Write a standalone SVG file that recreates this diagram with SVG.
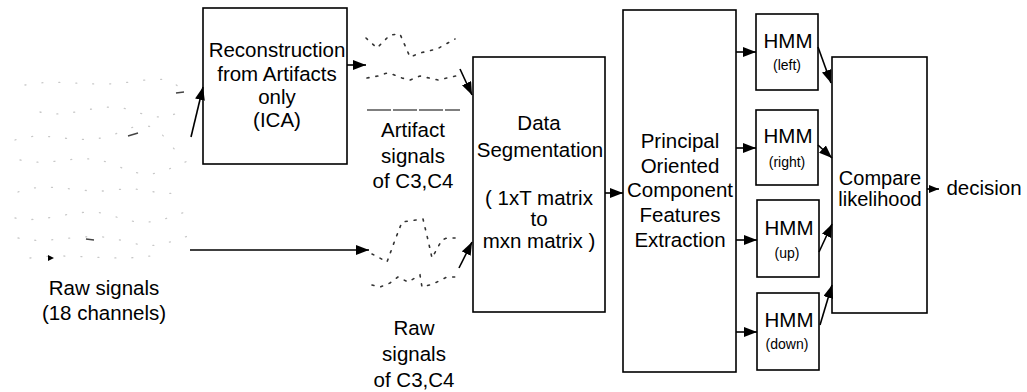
<svg xmlns="http://www.w3.org/2000/svg" width="1027" height="392" viewBox="0 0 1027 392">
<defs>
<marker id="ah" markerUnits="userSpaceOnUse" markerWidth="13" markerHeight="10" refX="13" refY="5" orient="auto">
<path d="M0,0 L13,5 L0,10 z" fill="#000"/>
</marker>
<marker id="ahs" markerUnits="userSpaceOnUse" markerWidth="10" markerHeight="8" refX="10" refY="4" orient="auto">
<path d="M0,0 L10,4 L0,8 z" fill="#000"/>
</marker>
<style>
.box{fill:#fff;stroke:#000;stroke-width:1.6}
.t{font-family:"Liberation Sans",Arial,sans-serif;font-size:20.5px;fill:#000;text-anchor:middle}
.s{font-family:"Liberation Sans",Arial,sans-serif;font-size:14px;fill:#000;text-anchor:middle}
.c{fill:none;stroke:#000;stroke-width:1.6}
.w{fill:none;stroke:#333;stroke-width:1.6;stroke-dasharray:2 7;stroke-linecap:round}
.f{fill:none;stroke:#c8c8c8;stroke-width:1.3;stroke-dasharray:1 16;stroke-linecap:round}
</style>
</defs>
<rect width="1027" height="392" fill="#fff"/>

<g id="raw-waves">
<path class="f" d="M25,85 C60,78 90,88 130,82 S170,80 185,92"/>
<path class="f" d="M40,112 C70,120 100,100 130,110 S165,118 180,112"/>
<path class="f" d="M15,140 C50,128 80,150 120,132 S160,138 185,160"/>
<path class="f" d="M20,160 C55,168 80,150 115,165 S155,175 190,160"/>
<path class="f" d="M18,192 C50,180 80,195 115,190 S160,200 185,190"/>
<path class="f" d="M15,218 C45,225 80,205 110,215 S150,225 185,212"/>
<path class="f" d="M18,238 C50,246 85,230 120,240 S160,245 188,236"/>
<path class="f" d="M30,258 C70,252 110,262 150,256"/>
<path fill="#000" d="M48,255 L54,258 L48,261 z"/>
<line x1="128" y1="136" x2="138" y2="133" stroke="#444" stroke-width="1.5"/>
<line x1="86" y1="239" x2="94" y2="240" stroke="#444" stroke-width="1.5"/>
<line x1="176" y1="93" x2="184" y2="92" stroke="#444" stroke-width="1.5"/>
</g>

<g id="raw-label">
<text class="t" x="104" y="295">Raw signals</text>
<text class="t" x="104" y="320">(18 channels)</text>
</g>

<g id="ica">
<rect class="box" x="203" y="8" width="144" height="156"/>
<text class="t" x="277" y="57">Reconstruction</text>
<text class="t" x="277" y="81">from Artifacts</text>
<text class="t" x="277" y="104">only</text>
<text class="t" x="277" y="127">(ICA)</text>
</g>

<g id="artifact-waves">
<path class="w" d="M366,38 L377,48 L390,35 L400,34 L410,57 L420,53 L437,49 L455,39"/>
<path class="w" d="M367,78 L378,76 L387,73 L392,74 L402,78 L410,80 L420,76 L438,80 L456,76"/>
<line x1="367" y1="110" x2="460" y2="110" stroke="#000" stroke-width="1.1" stroke-dasharray="24 2"/>
</g>
<g id="artifact-label">
<text class="t" x="413" y="137">Artifact</text>
<text class="t" x="413" y="163">signals</text>
<text class="t" x="413" y="188">of C3,C4</text>
</g>

<g id="rawc-waves">
<path class="w" d="M372,254 L378,257 L387,262 L395,240 L402,222 L423,219 L428,240 L432,258 L438,247 L442,240 L447,238 L456,238"/>
<path class="w" d="M372,285 L380,287 L390,283 L398,277 L408,282 L420,275 L422,287 L433,284 L447,277 L458,277"/>
</g>
<g id="rawc-label">
<text class="t" x="414" y="335">Raw</text>
<text class="t" x="414" y="361">signals</text>
<text class="t" x="414" y="387">of C3,C4</text>
</g>

<g id="seg">
<rect class="box" x="473" y="57" width="132" height="255"/>
<text class="t" x="539" y="130">Data</text>
<text class="t" x="540" y="157">Segmentation</text>
<text class="t" x="539" y="205">( 1xT matrix</text>
<text class="t" x="539" y="226">to</text>
<text class="t" x="539" y="248">mxn matrix )</text>
</g>

<g id="pca">
<rect class="box" x="623" y="10" width="113" height="362"/>
<text class="t" x="680" y="148">Principal</text>
<text class="t" x="680" y="173">Oriented</text>
<text class="t" x="680" y="197">Component</text>
<text class="t" x="680" y="222">Features</text>
<text class="t" x="680" y="247">Extraction</text>
</g>

<g id="hmm-left">
<rect class="box" x="756" y="14" width="62" height="76"/>
<text class="t" x="788" y="48">HMM</text>
<text class="s" x="787" y="70">(left)</text>
</g>
<g id="hmm-right">
<rect class="box" x="756" y="110" width="62" height="75"/>
<text class="t" x="788" y="143">HMM</text>
<text class="s" x="787" y="167">(right)</text>
</g>
<g id="hmm-up">
<rect class="box" x="757" y="200" width="62" height="77"/>
<text class="t" x="789" y="235">HMM</text>
<text class="s" x="787" y="258">(up)</text>
</g>
<g id="hmm-down">
<rect class="box" x="757" y="293" width="62" height="77"/>
<text class="t" x="789" y="327">HMM</text>
<text class="s" x="787" y="349">(down)</text>
</g>

<g id="compare">
<rect class="box" x="832" y="57" width="95" height="256"/>
<text class="t" x="880" y="185" style="font-size:20px">Compare</text>
<text class="t" x="880" y="206" style="font-size:20px">likelihood</text>
</g>

<g id="decision">
<text class="t" x="984" y="195">decision</text>
</g>

<g id="connectors">
<line class="c" x1="191" y1="137" x2="203" y2="87" marker-end="url(#ah)"/>
<line class="c" x1="347" y1="65" x2="366" y2="65" marker-end="url(#ah)"/>
<line class="c" x1="460" y1="69" x2="472" y2="95" marker-end="url(#ah)"/>
<line class="c" x1="190" y1="250" x2="369" y2="250" marker-end="url(#ah)"/>
<line class="c" x1="459" y1="268" x2="472" y2="242" marker-end="url(#ah)"/>
<line class="c" x1="605" y1="193" x2="623" y2="193" marker-end="url(#ah)"/>
<line class="c" x1="736" y1="52" x2="756" y2="52" marker-end="url(#ah)"/>
<line class="c" x1="736" y1="148" x2="756" y2="148" marker-end="url(#ah)"/>
<line class="c" x1="736" y1="240" x2="757" y2="240" marker-end="url(#ah)"/>
<line class="c" x1="736" y1="332" x2="757" y2="332" marker-end="url(#ah)"/>
<line class="c" x1="818" y1="47" x2="831" y2="83" marker-end="url(#ah)"/>
<line class="c" x1="818" y1="145" x2="832" y2="158" marker-end="url(#ah)"/>
<line class="c" x1="819" y1="252" x2="832" y2="224" marker-end="url(#ah)"/>
<line class="c" x1="820" y1="325" x2="832" y2="285" marker-end="url(#ah)"/>
<line class="c" x1="927" y1="189" x2="939" y2="189" marker-end="url(#ahs)"/>
</g>
</svg>
